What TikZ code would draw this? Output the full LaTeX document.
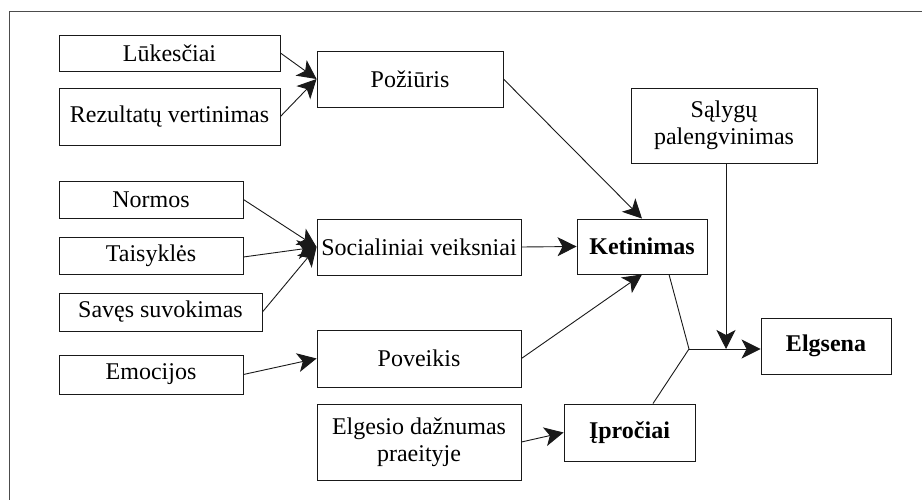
\documentclass[tikz,border=0pt]{standalone}
\usepackage{fontspec}
\setmainfont{Liberation Serif}
\usetikzlibrary{arrows.meta,calc}
\begin{document}
\begin{tikzpicture}[x=1pt,y=-1pt,
  box/.style={draw=black!90, line width=0.9pt, inner sep=0pt, align=center, font=\fontsize{24}{27}\selectfont},
  bbox/.style={box, font=\fontsize{24}{27}\selectfont\bfseries},
  arr/.style={line width=0.9pt, draw=black!90, -{Stealth[length=19pt,width=19pt,inset=5pt]}},
  ln/.style={line width=0.9pt, draw=black!90}]
\useasboundingbox (0,0) rectangle (922,500);
\draw[line width=0.9pt, black!70] (9,500) -- (9,11) -- (922,11);
% left column
\node[box, minimum width=221pt, minimum height=36pt] (luk) at (169.5,53) {Lūkesčiai};
\node[box, minimum width=221pt, minimum height=57pt] (rez) at (169.5,116.5) {Rezultatų vertinimas};
\node[box, minimum width=184pt, minimum height=37pt] (nor) at (151,199.5) {Normos};
\node[box, minimum width=184pt, minimum height=37pt] (tai) at (151,255.5) {Taisyklės};
\node[box, minimum width=203pt, minimum height=38pt] (sav) at (160.5,312) {Savęs suvokimas};
\node[box, minimum width=184pt, minimum height=39pt] (emo) at (151,374.5) {Emocijos};
% middle column
\node[box, minimum width=186pt, minimum height=56pt] (poz) at (410,79) {Požiūris};
\node[box, minimum width=204pt, minimum height=56pt] (soc) at (419,247) {Socialiniai veiksniai};
\node[box, minimum width=204pt, minimum height=57pt] (pov) at (419,358.5) {Poveikis};
\node[box, minimum width=204pt, minimum height=76pt] (elg) at (419,442) {Elgesio dažnumas\\praeityje};
% right part
\node[bbox, minimum width=130pt, minimum height=55pt] (ket) at (642,246.5) {Ketinimas};
\node[box, minimum width=186pt, minimum height=75pt] (sal) at (724,125.5) {Sąlygų\\palengvinimas};
\node[bbox, minimum width=130pt, minimum height=56pt] (els) at (826,346) {Elgsena};
\node[bbox, minimum width=131pt, minimum height=57pt] (ipr) at (629.5,432.5) {Įpročiai};
\coordinate (j) at (689,349);
% connectors
\draw[arr] (luk.east) -- (poz.west);
\draw[arr] (rez.east) -- (poz.west);
\draw[arr] (poz.east) -- (ket.north);
\draw[arr] (nor.east) -- (soc.west);
\draw[arr] ([yshift=-1.5pt]tai.east) -- (soc.west);
\draw[arr] (sav.east) -- (soc.west);
\draw[arr] (soc.east) -- (ket.west);
\draw[arr] (emo.east) -- (pov.west);
\draw[arr] (pov.east) -- (ket.south);
\draw[arr] (elg.east) -- (ipr.west);
\draw[ln] ([xshift=27pt]ket.south) -- (j);
\draw[ln] ([xshift=23.5pt]ipr.north) -- (j);
\draw[arr] (j) -- (j -| els.west);
\draw[arr] ([xshift=2pt]sal.south) -- ([xshift=2pt]sal.south |- j);
\end{tikzpicture}
\end{document}
